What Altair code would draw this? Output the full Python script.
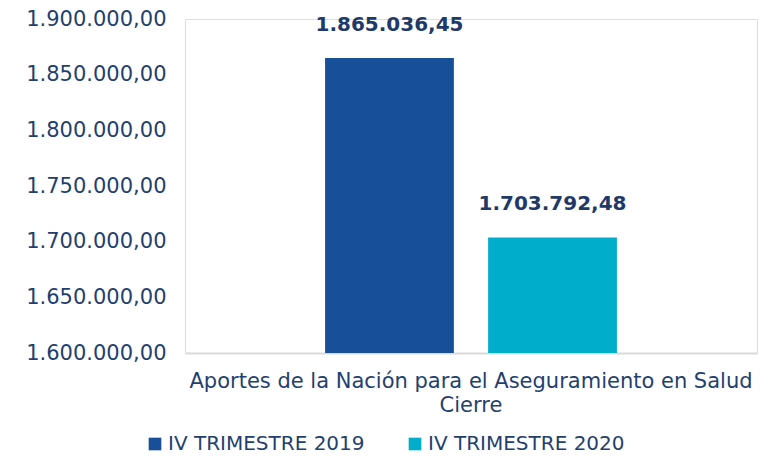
import altair as alt
import pandas as pd

categories = ["Aportes de la Nación para el Aseguramiento en Salud|Cierre"]
series = ["IV TRIMESTRE 2019", "IV TRIMESTRE 2020"]
values = [1865036.45, 1703792.48]
colors = ["#174F98", "#00AECB"]
y_ticks = [1600000, 1650000, 1700000, 1750000, 1800000, 1850000, 1900000]

df = pd.DataFrame({
    "cat": [categories[0]] * len(series),
    "serie": series,
    "valor": values,
})

FONT = "DejaVu Sans"
TXT = "#243F6E"

base = alt.Chart(df).encode(
    x=alt.X("cat:N", title=None,
            scale=alt.Scale(paddingInner=0, paddingOuter=0.48),
            axis=alt.Axis(labelExpr="split(datum.label, '|')", labelAngle=0,
                          labelFontSize=21, labelLineHeight=24, labelColor=TXT,
                          labelFont=FONT, labelPadding=17, ticks=False,
                          domainColor="#D9D9D9", domainWidth=2, labelLimit=1000)),
    xOffset=alt.XOffset("serie:N", sort=series,
                        scale=alt.Scale(paddingInner=0.21, paddingOuter=0)),
)

bars = base.mark_bar().encode(
    y=alt.Y("valor:Q", title=None,
            scale=alt.Scale(domain=[1600000, 1900000], clamp=True, nice=False, zero=False),
            axis=alt.Axis(values=y_ticks, format=",.2f", grid=False, domain=False,
                          ticks=False, labelFontSize=21, labelColor=TXT,
                          labelFont=FONT, labelPadding=19)),
    color=alt.Color("serie:N", sort=series,
                    scale=alt.Scale(domain=series, range=colors),
                    legend=alt.Legend(title=None, orient="none", direction="horizontal",
                                      legendX=-40, legendY=415, padding=0,
                                      symbolType="square", symbolSize=160,
                                      symbolStrokeWidth=0, labelLimit=1000,
                                      labelFontSize=20, labelColor=TXT, labelFont=FONT,
                                      columnPadding=40, labelOffset=3)),
)

labels = base.mark_text(fontSize=20, fontWeight="bold", color="#1F3A68", font=FONT,
                        baseline="alphabetic", dy=-27).encode(
    y=alt.Y("valor:Q"),
    text=alt.Text("valor:Q", format=",.2f"),
)

chart = alt.layer(bars, labels).properties(
    width=572, height=334,
    autosize=alt.AutoSizeParams(type="none"),
    padding={"left": 177, "right": 5, "top": 11, "bottom": 106},
).configure_view(strokeWidth=0).configure(background="white")

chart.save("out.html", embed_options={
    "renderer": "svg", "actions": False,
    "formatLocale": {"decimal": ",", "thousands": ".", "grouping": [3], "currency": ["$", ""]},
})
